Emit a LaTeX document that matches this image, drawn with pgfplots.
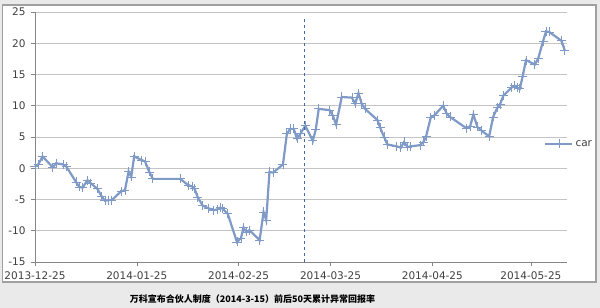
\documentclass[border=0pt]{standalone}
\usepackage{pgfplots}
\pgfplotsset{compat=1.18}
\usepackage{fontspec}
\setmainfont{DejaVu Sans}
\newfontfamily\cjk{Noto Sans CJK SC}
\definecolor{carblue}{RGB}{128,154,200}
\definecolor{dashblue}{RGB}{70,105,165}
\definecolor{bggray}{RGB}{234,234,234}
\definecolor{boxgray}{RGB}{160,160,160}
\definecolor{gridgray}{RGB}{196,196,196}
\definecolor{labgray}{RGB}{64,64,64}
\definecolor{axgray}{RGB}{134,134,134}
\begin{document}
\begin{tikzpicture}
\useasboundingbox (0pt,0pt) rectangle (600pt,308pt);
\fill[bggray] (0pt,0pt) rectangle (600pt,308pt);
\filldraw[fill=white, draw=boxgray, line width=1.2pt] (2.5pt,26pt) rectangle (596pt,303pt);
\begin{axis}[
  at={(35pt,46pt)}, anchor=south west,
  scale only axis, width=532pt, height=250pt,
  xmin=0, xmax=162, ymin=-15, ymax=25,
  axis x line=bottom, axis y line=left,
  axis line style={draw=axgray, line width=0.8pt, -},
  xtick={0,31,62,90,121,151},
  xticklabels={2013-12-25,2014-01-25,2014-02-25,2014-03-25,2014-04-25,2014-05-25},
  ytick={-15,-10,...,25},
  tick align=outside, major tick length=4pt,
  tick style={draw=axgray, line width=0.6pt},
  ymajorgrids, grid style={draw=gridgray, line width=0.8pt},
  /pgf/number format/assume math mode=true,
  ticklabel style={font=\fontsize{10.5}{12}\selectfont, text=labgray},
  yticklabel style={anchor=east, xshift=-2pt},
  xticklabel style={anchor=north, yshift=-2pt},
  legend style={at={(0.957,0.472)}, anchor=west, draw=none, fill=none, inner sep=0pt,
    font=\fontsize{10.5}{12}\selectfont, text=labgray},
  legend cell align=left,
  legend image code/.code={\draw[mark repeat=2,mark phase=2,#1] plot coordinates {(0pt,0pt) (13.5pt,0pt) (27pt,0pt)};},
  clip=false,
]
\addplot[carblue, line width=2.2pt, mark=+, mark size=4.5pt, mark options={line width=0.8pt, solid}] coordinates {
(0.0,0.3) (1.0,0.6) (2.3,1.9) (5.4,0.15) (6.4,0.8) (8.6,0.6) (9.5,0.3)
(12.5,-2.2) (13.5,-3.0) (14.5,-3.1) (16.0,-1.9) (17.0,-2.4) (19.0,-3.3)
(20.3,-4.5) (21.3,-5.2) (22.4,-5.1) (23.4,-5.1) (26.2,-3.7) (27.4,-3.5)
(28.5,-0.5) (29.3,-1.4) (30.2,1.9) (32.5,1.3) (33.5,1.1) (34.8,-0.6)
(35.9,-1.7) (44.2,-1.7) (46.7,-2.7) (47.8,-2.9) (48.6,-3.3) (49.6,-4.7)
(51.1,-6.0) (52.8,-6.4) (54.4,-6.7) (55.4,-6.6) (56.4,-6.3) (57.2,-6.5)
(58.7,-7.3) (61.5,-11.8) (62.7,-11.2) (63.5,-9.5) (64.3,-10.2) (65.3,-9.9)
(68.4,-11.5) (69.6,-7.0) (70.4,-8.3) (71.4,-0.6) (72.5,-0.7) (75.5,0.6)
(76.7,5.5) (77.7,6.3) (78.8,6.3) (79.8,4.7) (80.8,5.5) (82.3,6.8)
(84.6,4.4) (85.5,6.2) (86.4,9.5) (89.7,9.3) (90.7,8.4) (91.7,7.0)
(93.4,11.4) (96.5,11.3) (97.5,10.3) (98.5,12.0) (99.5,10.3) (100.5,9.5)
(104.3,7.7) (105.1,6.5) (106.3,5.0) (107.3,3.8) (110.2,3.5) (111.4,3.3)
(112.4,4.2) (113.4,3.4) (114.4,3.5) (117.3,3.7) (118.3,4.2) (119.1,5.1)
(120.5,8.1) (121.5,8.4) (124.3,10.0) (125.4,8.7) (126.4,8.2) (131.4,6.4)
(132.5,6.7) (133.5,8.6) (134.7,6.6) (136.0,6.0) (138.3,5.1) (139.5,8.2)
(140.8,9.7) (141.6,10.2) (142.6,11.6) (145.1,12.9) (146.1,13.2) (146.8,12.9)
(147.6,12.7) (148.5,14.7) (149.5,17.3) (152.2,16.6) (153.2,17.5) (154.7,20.3)
(155.6,21.9) (156.6,21.8) (160.3,20.4) (161.3,18.9)
};
\addlegendentry{car}
\addplot[dashblue, line width=0.9pt, dashed, forget plot] coordinates {(82.1,-15) (82.1,24)};
\end{axis}
\node[font=\cjk\bfseries\fontsize{9}{10}\selectfont] at (252.5pt,9pt) {万科宣布合伙人制度（2014-3-15）前后50天累计异常回报率};
\end{tikzpicture}
\end{document}
